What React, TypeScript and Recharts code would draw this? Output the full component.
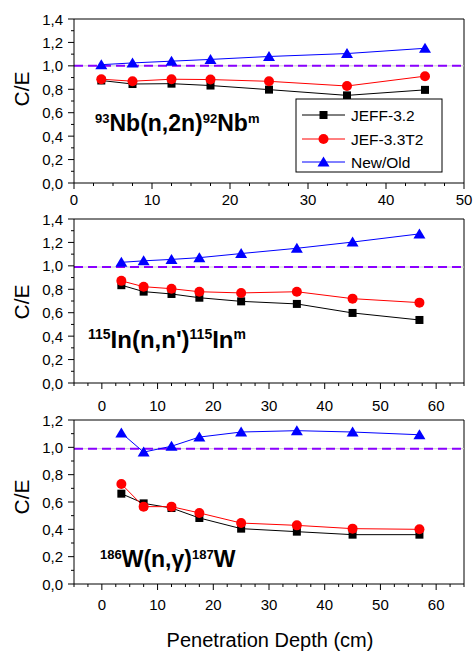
import { LineChart, Line, XAxis, YAxis, ReferenceLine } from "recharts";

// 93Nb(n,2n)92Nbm
const depthNb = [3.5, 7.5, 12.5, 17.5, 25, 35, 45];
const nbJeff32 = [0.875, 0.845, 0.848, 0.832, 0.797, 0.748, 0.795];
const nbJef33t2 = [0.886, 0.869, 0.886, 0.883, 0.868, 0.828, 0.912];
const nbNewOld = [1.01, 1.025, 1.04, 1.055, 1.08, 1.105, 1.15];

// 115In(n,n')115Inm
const depthIn = [3.5, 7.5, 12.5, 17.5, 25, 35, 45, 57];
const inJeff32 = [0.835, 0.78, 0.76, 0.728, 0.697, 0.675, 0.598, 0.538];
const inJef33t2 = [0.872, 0.822, 0.805, 0.779, 0.769, 0.779, 0.72, 0.686];
const inNewOld = [1.03, 1.043, 1.055, 1.07, 1.105, 1.15, 1.203, 1.273];

// 186W(n,g)187W
const depthW = [3.5, 7.5, 12.5, 17.5, 25, 35, 45, 57];
const wJeff32 = [0.661, 0.59, 0.556, 0.483, 0.405, 0.383, 0.361, 0.361];
const wJef33t2 = [0.732, 0.566, 0.566, 0.52, 0.446, 0.429, 0.405, 0.4];
const wNewOld = [1.105, 0.965, 1.008, 1.075, 1.112, 1.122, 1.112, 1.092];

const nbXTicks = [0, 10, 20, 30, 40, 50];
const depthXTicks = [0, 10, 20, 30, 40, 50, 60];
const yTicks14 = [0, 0.2, 0.4, 0.6, 0.8, 1.0, 1.2, 1.4];
const yTicks12 = [0, 0.2, 0.4, 0.6, 0.8, 1.0, 1.2];

const seriesNames = ["JEFF-3.2", "JEF-3.3T2", "New/Old"];

const FONT = "Liberation Sans, Arial, sans-serif";

const toRows = (x: number[], a: number[], b: number[], c: number[]) =>
  x.map((v, i) => ({ x: v, jeff: a[i], jef: b[i], newold: c[i] }));

const steps = (from: number, to: number, step: number) => {
  const out: number[] = [];
  for (let v = from; v <= to + 1e-9; v += step) out.push(Math.round(v * 1000) / 1000);
  return out;
};

const isIn = (v: number, list: number[]) => list.some((m) => Math.abs(m - v) < 1e-6);
const fmt = (v: number) => v.toFixed(1).replace(".", ",");

const Square = ({ cx, cy }: any) => (
  <rect x={cx - 4} y={cy - 4} width={8} height={8} fill="#000" />
);
const Circle = ({ cx, cy }: any) => <circle cx={cx} cy={cy} r={5} fill="#ff0000" />;
const Triangle = ({ cx, cy }: any) => (
  <path d={`M${cx},${cy - 5.5} L${cx + 6},${cy + 4.5} L${cx - 6},${cy + 4.5} Z`} fill="#0000ff" />
);

interface PanelProps {
  top: number;
  height: number;
  marginTop: number;
  rows: { x: number; jeff: number; jef: number; newold: number }[];
  xDomain: [number, number];
  xMajor: number[];
  yMax: number;
  yMajor: number[];
  refY: number;
  labelGap: number;
}

function Panel({ top, height, marginTop, rows, xDomain, xMajor, yMax, yMajor, refY, labelGap }: PanelProps) {
  const xTicks = steps(xDomain[0], xDomain[1], 2.5);
  const yTicks = steps(0, yMax, 0.1);

  const xTick = ({ x, y, payload }: any) => {
    const major = isIn(payload.value, xMajor);
    return (
      <g>
        <line x1={x} x2={x} y1={y} y2={y + (major ? 6 : 3)} stroke="#000" />
        {major && (
          <text x={x} y={y + labelGap} textAnchor="middle" fontFamily={FONT} fontSize={15} fill="#000">
            {payload.value}
          </text>
        )}
      </g>
    );
  };

  const yTick = ({ x, y, payload }: any) => {
    const major = isIn(payload.value, yMajor);
    return (
      <g>
        <line x1={x - (major ? 6 : 3)} x2={x} y1={y} y2={y} stroke="#000" />
        {major && (
          <text x={x - 11} y={y + 5.5} textAnchor="end" fontFamily={FONT} fontSize={15} fill="#000">
            {fmt(payload.value)}
          </text>
        )}
      </g>
    );
  };

  return (
    <div style={{ position: "absolute", left: 0, top, width: 475, height }}>
      <LineChart width={475} height={height} data={rows} margin={{ top: marginTop, right: 11, bottom: 0, left: 0 }}>
        <XAxis
          type="number"
          dataKey="x"
          domain={xDomain}
          ticks={xTicks}
          interval={0}
          tickSize={0}
          tickMargin={0}
          tickLine={false}
          axisLine={{ stroke: "#000" }}
          tick={xTick}
          height={32}
          allowDataOverflow
        />
        <YAxis
          type="number"
          domain={[0, yMax]}
          ticks={yTicks}
          interval={0}
          tickSize={0}
          tickMargin={0}
          tickLine={false}
          axisLine={{ stroke: "#000" }}
          tick={yTick}
          width={74}
          allowDataOverflow
        />
        <ReferenceLine y={yMax} stroke="#000" />
        <ReferenceLine x={xDomain[1]} stroke="#000" />
        <ReferenceLine y={refY} stroke="#cfcfcf" />
        <ReferenceLine y={refY} stroke="#8a00ff" strokeWidth={2} strokeDasharray="9 5" />
        <Line type="linear" dataKey="jeff" stroke="#000" strokeWidth={1} dot={<Square />} isAnimationActive={false} />
        <Line type="linear" dataKey="jef" stroke="#ff0000" strokeWidth={1} dot={<Circle />} isAnimationActive={false} />
        <Line type="linear" dataKey="newold" stroke="#0000ff" strokeWidth={1} dot={<Triangle />} isAnimationActive={false} />
      </LineChart>
    </div>
  );
}

function Reaction({ x, y, size, supSize, parts }: { x: number; y: number; size: number; supSize: number; parts: [string, boolean][] }) {
  const lift = Math.round(size * 0.36);
  return (
    <text x={x} y={y} fontFamily={FONT} fontWeight="bold" fontSize={size} fill="#000">
      {parts.map(([t, sup], i) => {
        const prevSup = i > 0 && parts[i - 1][1];
        const dy = sup && !prevSup ? -lift : !sup && prevSup ? lift : 0;
        return (
          <tspan key={i} dy={dy} fontSize={sup ? supSize : size}>
            {t}
          </tspan>
        );
      })}
    </text>
  );
}

export default function App() {
  const legendRows = [
    { y: 115, color: "#000", marker: <Square cx={323.5} cy={115} /> },
    { y: 139, color: "#ff0000", marker: <Circle cx={323.5} cy={139} /> },
    { y: 162, color: "#0000ff", marker: <Triangle cx={323.5} cy={162} /> },
  ];

  return (
    <div style={{ position: "absolute", left: 0, top: 0, width: 475, height: 653, background: "#fff", overflow: "hidden" }}>
      <Panel
        top={0}
        height={215}
        marginTop={19}
        rows={toRows(depthNb, nbJeff32, nbJef33t2, nbNewOld)}
        xDomain={[0, 50]}
        xMajor={nbXTicks}
        yMax={1.4}
        yMajor={yTicks14}
        refY={1.0}
        labelGap={22}
      />
      <Panel
        top={205}
        height={210}
        marginTop={14}
        rows={toRows(depthIn, inJeff32, inJef33t2, inNewOld)}
        xDomain={[-5, 65]}
        xMajor={depthXTicks}
        yMax={1.4}
        yMajor={yTicks14}
        refY={0.99}
        labelGap={28}
      />
      <Panel
        top={405}
        height={211}
        marginTop={15}
        rows={toRows(depthW, wJeff32, wJef33t2, wNewOld)}
        xDomain={[-5, 65]}
        xMajor={depthXTicks}
        yMax={1.2}
        yMajor={yTicks12}
        refY={0.99}
        labelGap={26}
      />
      <svg width={475} height={653} style={{ position: "absolute", left: 0, top: 0, pointerEvents: "none" }}>
        <rect x={296} y={99} width={146} height={73} fill="#fff" stroke="#000" />
        {legendRows.map((r, i) => (
          <g key={i}>
            <line x1={302} x2={345} y1={r.y} y2={r.y} stroke={r.color} />
            {r.marker}
            <text x={351} y={r.y + 5.5} fontFamily={FONT} fontSize={15.5} fill="#000">
              {seriesNames[i]}
            </text>
          </g>
        ))}
        <Reaction x={95} y={131} size={23} supSize={13} parts={[["93", true], ["Nb(n,2n)", false], ["92", true], ["Nb", false], ["m", true]]} />
        <Reaction x={88} y={348} size={24} supSize={14} parts={[["115", true], ["In(n,n')", false], ["115", true], ["In", false], ["m", true]]} />
        <Reaction x={100} y={567} size={23} supSize={13} parts={[["186", true], ["W(n,γ)", false], ["187", true], ["W", false]]} />
        {[89, 302, 497].map((cy, i) => (
          <text
            key={i}
            x={29}
            y={cy}
            transform={`rotate(-90 29 ${cy})`}
            textAnchor="middle"
            fontFamily={FONT}
            fontSize={21}
            fill="#000"
          >
            C/E
          </text>
        ))}
        <text x={270} y={647} textAnchor="middle" fontFamily={FONT} fontSize={20} fill="#000">
          Penetration Depth (cm)
        </text>
      </svg>
    </div>
  );
}
